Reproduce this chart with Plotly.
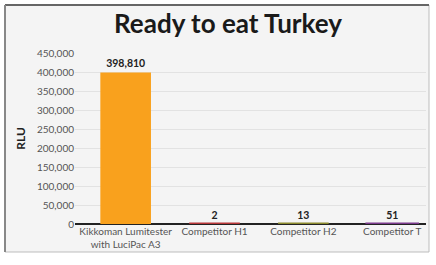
import plotly.graph_objects as go

categories = ["Kikkoman Lumitester<br>with LuciPac A3", "Competitor H1", "Competitor H2", "Competitor T"]
rlu_values = [398810, 2, 13, 51]
bar_colors = ["#f9a11d", "#b8383a", "#8c8a2e", "#7b3b8c"]
y_ticks = [0, 50000, 100000, 150000, 200000, 250000, 300000, 350000, 400000, 450000]
title_text = "Ready to eat Turkey"

W, H = 436, 265

def px_x(x):
    return x / W

def px_y(y):
    return 1 - y / H

fig = go.Figure()
fig.add_trace(go.Bar(
    x=categories,
    y=rlu_values,
    marker=dict(color=bar_colors, line=dict(color=bar_colors, width=[0, 3, 3, 3])),
    width=0.57,
    texttemplate="<b>%{y:,}</b>",
    textposition="outside",
    textfont=dict(family="Lato", size=10.5, color="#222222"),
    cliponaxis=False,
    hoverinfo="skip",
))

fig.update_layout(
    width=W, height=H,
    margin=dict(l=0, r=0, t=0, b=0),
    paper_bgcolor="white",
    plot_bgcolor="rgba(0,0,0,0)",
    showlegend=False,
    font=dict(family="Lato", color="#555555"),
    title=dict(text="<b>" + title_text + "</b>", x=px_x(228), xanchor="center",
               y=px_y(24), yanchor="middle",
               font=dict(family="Lato", size=26, color="#1a1a1a")),
    xaxis=dict(
        domain=[px_x(75), px_x(426)],
        range=[-0.57, 3.38],
        showgrid=False,
        showline=False,
        ticks="",
        tickfont=dict(family="Lato", size=10, color="#555555"),
        fixedrange=True,
    ),
    yaxis=dict(
        domain=[px_y(224), px_y(53)],
        range=[0, 450000],
        tickvals=y_ticks,
        tickformat=",",
        showgrid=True,
        gridcolor="#e2e2e2",
        gridwidth=1,
        zeroline=True,
        zerolinecolor="#222222",
        zerolinewidth=2,
        showline=False,
        ticks="",
        tickfont=dict(family="Lato", size=10, color="#555555"),
        title=dict(text="<b>RLU</b>", font=dict(family="Lato", size=12, color="#222222"), standoff=8),
        automargin=False,
        fixedrange=True,
    ),
    shapes=[
        dict(type="rect", xref="paper", yref="paper",
             x0=px_x(5), x1=px_x(429), y0=px_y(252), y1=px_y(5),
             fillcolor="#f4f4f4", line=dict(color="#bdbdbd", width=1), layer="below"),
        dict(type="line", xref="paper", yref="paper",
             x0=px_x(5), x1=px_x(429), y0=px_y(5), y1=px_y(5),
             line=dict(color="#666666", width=2), layer="below"),
        dict(type="line", xref="paper", yref="paper",
             x0=px_x(5), x1=px_x(5), y0=px_y(252), y1=px_y(5),
             line=dict(color="#888888", width=2), layer="below"),
    ],
)

fig.write_html("out.html", config={"displayModeBar": False},
               post_script="document.body.style.margin='0';")
